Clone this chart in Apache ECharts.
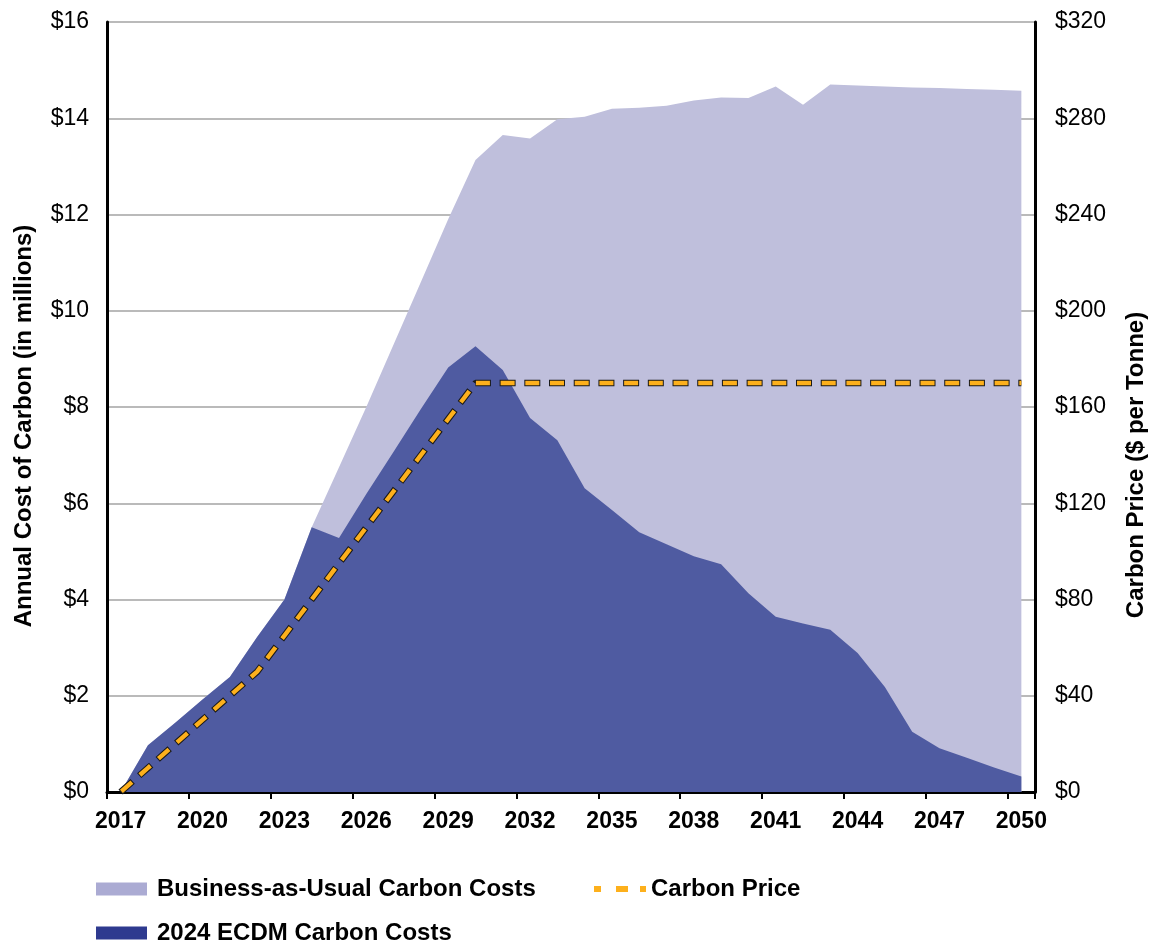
<!DOCTYPE html>
<html>
<head>
<meta charset="utf-8">
<title>Carbon Costs</title>
<script src="https://cdn.jsdelivr.net/npm/echarts@6.0.0/dist/echarts.min.js"></script>
<style>
  html, body { margin: 0; padding: 0; background: #fff; }
  #chart { width: 1149px; height: 943px; }
</style>
</head>
<body>
<div id="chart"></div>
<script>
// years on the x axis
var years = ['2017', '2018', '2019', '2020', '2021', '2022', '2023', '2024', '2025', '2026',
    '2027', '2028', '2029', '2030', '2031', '2032', '2033', '2034', '2035', '2036',
    '2037', '2038', '2039', '2040', '2041', '2042', '2043', '2044', '2045', '2046',
    '2047', '2048', '2049', '2050'];

// annual cost of carbon, $ millions
var bauCosts = [0, 0.97, 1.44, 1.92, 2.39, 3.22, 4.0, 5.5, 6.75, 8.0,
    9.3, 10.6, 11.9, 13.13, 13.65, 13.58, 13.98, 14.03, 14.2, 14.22,
    14.26, 14.37, 14.43, 14.42, 14.66, 14.28, 14.7, 14.68, 14.66, 14.64,
    14.63, 14.61, 14.59, 14.57];

var ecdmCosts = [0, 0.97, 1.44, 1.92, 2.39, 3.22, 4.0, 5.5, 5.28, 6.19,
    7.07, 7.96, 8.82, 9.26, 8.77, 7.77, 7.31, 6.31, 5.86, 5.4,
    5.15, 4.9, 4.73, 4.13, 3.64, 3.5, 3.37, 2.89, 2.18, 1.25,
    0.91, 0.71, 0.51, 0.32];

// carbon price, $ per tonne
var carbonPrice = [0, 10, 20, 30, 40, 50, 65, 80, 95, 110,
    125, 140, 155, 170, 170, 170, 170, 170, 170, 170,
    170, 170, 170, 170, 170, 170, 170, 170, 170, 170,
    170, 170, 170, 170];

var FONT = '"Liberation Sans", Arial, sans-serif';

var myChart = echarts.init(document.getElementById('chart'), null, { renderer: 'canvas' });

var legendText = { fontFamily: FONT, fontSize: 24, fontWeight: 'bold', color: '#000', lineHeight: 26 };

var option = {
    animation: false,
    grid: {
        left: 107,
        right: 114,
        top: 22,
        bottom: 151,
        outerBoundsMode: 'none'
    },
    legend: [{
        data: [{ name: 'Business-as-Usual Carbon Costs', itemStyle: { color: '#ABABD3' } }],
        left: 96, top: 876, padding: 0,
        icon: 'rect', itemWidth: 51, itemHeight: 13,
        selectedMode: false,
        textStyle: Object.assign({ padding: [0, 0, 0, 5] }, legendText)
    }, {
        data: [{ name: '2024 ECDM Carbon Costs', itemStyle: { color: '#2E3A8F' } }],
        left: 96, top: 920, padding: 0,
        icon: 'rect', itemWidth: 51, itemHeight: 13,
        selectedMode: false,
        textStyle: Object.assign({ padding: [0, 0, 0, 5] }, legendText)
    }, {
        data: [{ name: 'Carbon Price', icon: 'path://M0,0h7v6h-7zM22,0h12v6h-12zM46,0h6v6h-6z', itemStyle: { color: '#FDB01C', borderWidth: 0 } }],
        left: 594, top: 876, padding: 0,
        itemWidth: 52, itemHeight: 6,
        selectedMode: false,
        textStyle: legendText
    }],
    xAxis: {
        type: 'category',
        data: years,
        boundaryGap: true,
        axisLine: { show: true, lineStyle: { color: '#000', width: 3 } },
        axisTick: { show: true, interval: 2, length: 7, lineStyle: { color: '#000', width: 2 } },
        axisLabel: {
            interval: 2, margin: 18,
            fontFamily: FONT, fontSize: 23, fontWeight: 'bold', color: '#000'
        },
        splitLine: { show: false }
    },
    yAxis: [{
        type: 'value',
        min: 0, max: 16, interval: 2,
        name: 'Annual Cost of Carbon (in millions)',
        nameLocation: 'middle',
        nameRotate: 90,
        nameGap: 71,
        nameTextStyle: { fontFamily: FONT, fontSize: 24, fontWeight: 'bold', color: '#000', padding: [0, 38, 0, 0] },
        axisLine: { show: true, lineStyle: { color: '#000', width: 3 } },
        axisTick: { show: false },
        axisLabel: {
            margin: 18,
            fontFamily: FONT, fontSize: 23, color: '#000',
            formatter: function (v) { return '$' + v; }
        },
        splitLine: { show: true, lineStyle: { color: '#A3A3A3', width: 1.5 } }
    }, {
        type: 'value',
        min: 0, max: 320, interval: 40,
        position: 'right',
        name: 'Carbon Price ($ per Tonne)',
        nameLocation: 'middle',
        nameRotate: 90,
        nameGap: 89,
        nameTextStyle: { fontFamily: FONT, fontSize: 24, fontWeight: 'bold', color: '#000', padding: [0, 116, 0, 0] },
        axisLine: { show: true, lineStyle: { color: '#000', width: 3 } },
        axisTick: { show: false },
        axisLabel: {
            margin: 20,
            fontFamily: FONT, fontSize: 23, color: '#000',
            formatter: function (v) { return '$' + v; }
        },
        splitLine: { show: false }
    }],
    series: [{
        name: 'Business-as-Usual Carbon Costs',
        type: 'line',
        data: bauCosts,
        symbol: 'none',
        lineStyle: { width: 0 },
        itemStyle: { color: '#ABABD3' },
        areaStyle: { color: '#BFBFDC', opacity: 1 },
        z: 1
    }, {
        name: '2024 ECDM Carbon Costs',
        type: 'line',
        data: ecdmCosts,
        symbol: 'none',
        lineStyle: { width: 0 },
        itemStyle: { color: '#2E3A8F' },
        areaStyle: { color: '#4F5BA1', opacity: 1 },
        z: 2
    }, { // dark outline under the dashes
        name: 'Carbon Price outline',
        type: 'line',
        yAxisIndex: 1,
        data: carbonPrice,
        symbol: 'none',
        silent: true,
        lineStyle: { color: '#1a1a1a', width: 6.5, type: [16, 8.7], cap: 'butt' },
        z: 3
    }, {
        name: 'Carbon Price',
        type: 'line',
        yAxisIndex: 1,
        data: carbonPrice,
        symbol: 'none',
        silent: true,
        itemStyle: { color: '#FDB01C' },
        lineStyle: { color: '#FDB01C', width: 4.4, type: [14, 10.7], dashOffset: -1, cap: 'butt' },
        z: 4
    }]
};

myChart.setOption(option);
</script>
</body>
</html>
